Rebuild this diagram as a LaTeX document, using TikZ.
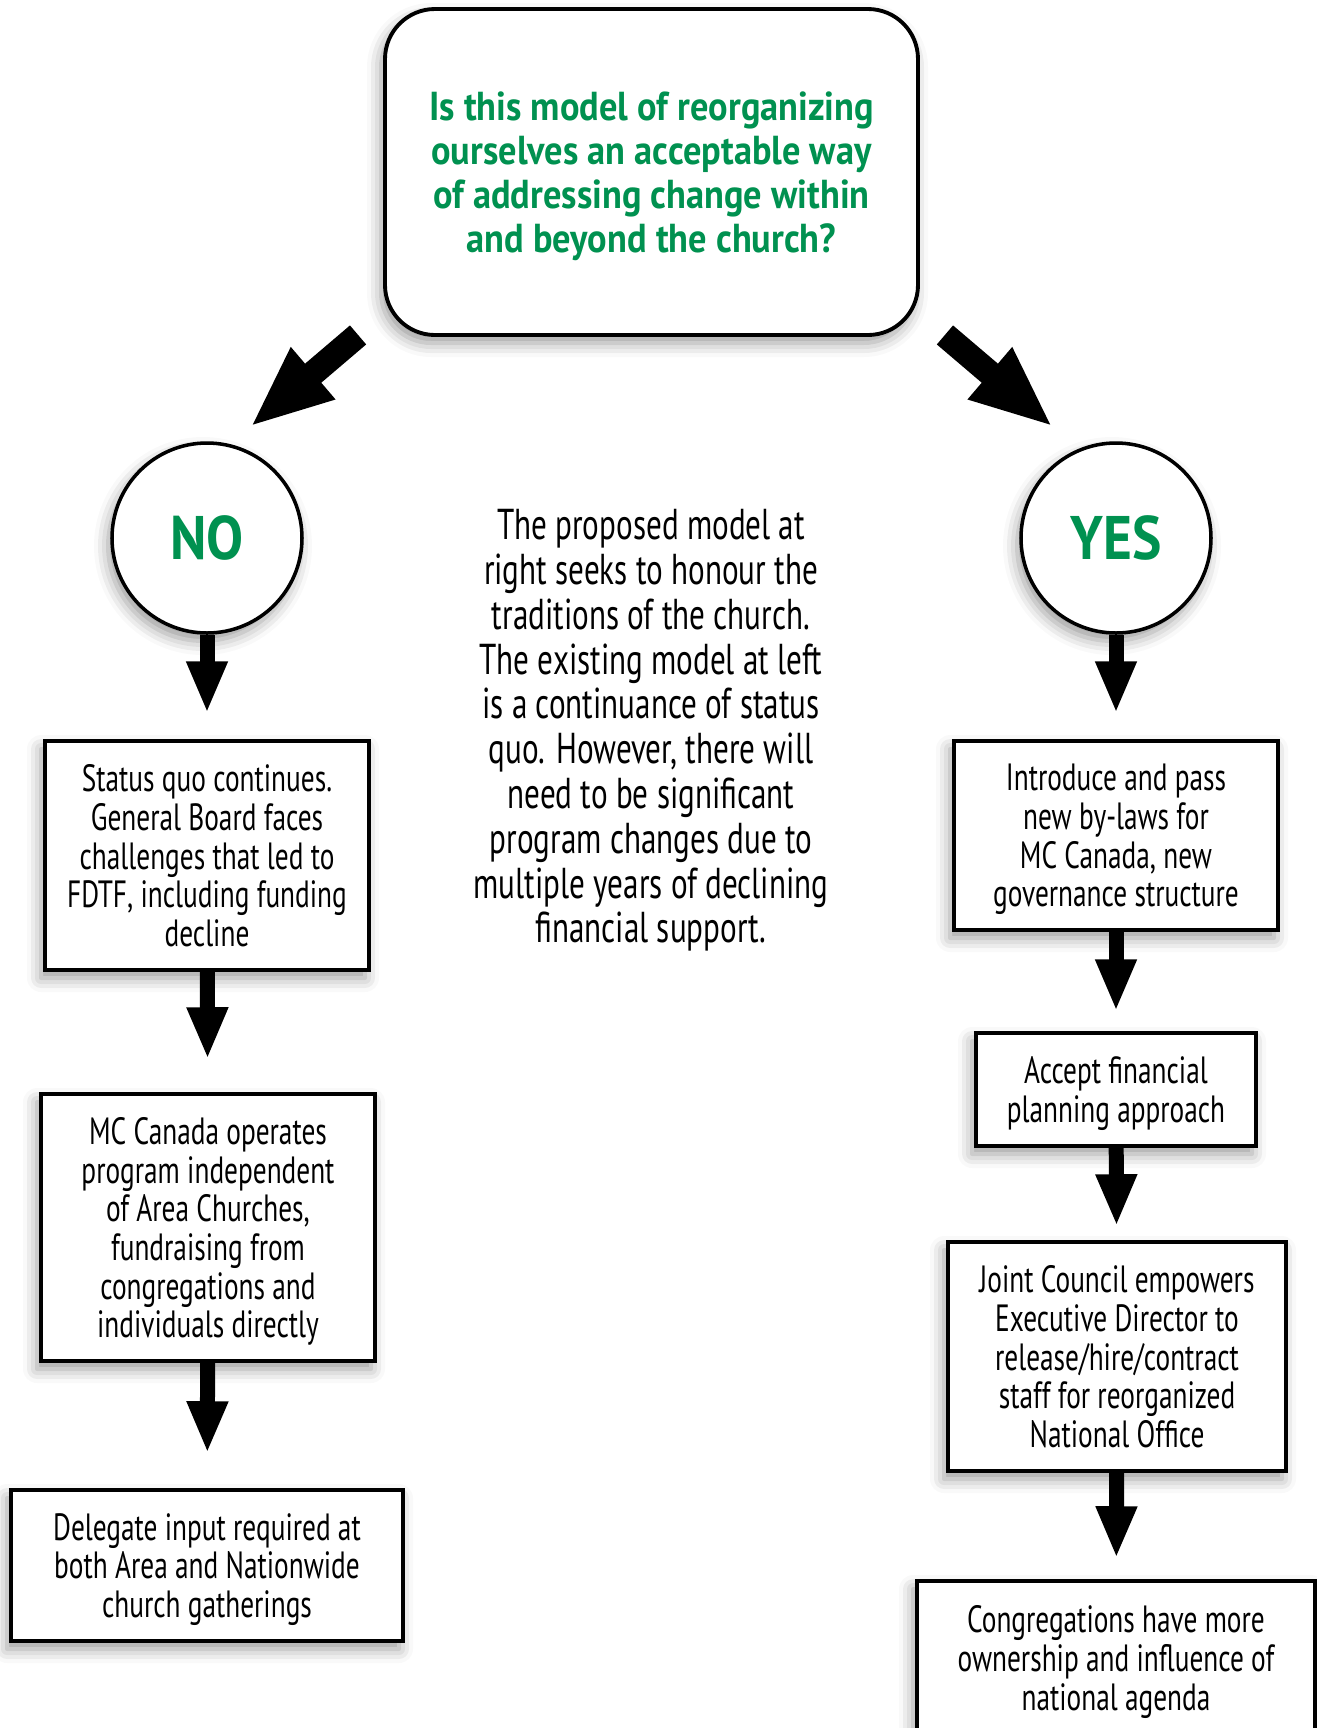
\documentclass[tikz,border=0pt]{standalone}
\usepackage{fontspec}
\setmainfont{PT Sans}[FakeStretch=0.72]
\newfontfamily\askfont{PT Sans}[FakeStretch=0.9]
\usetikzlibrary{arrows.meta, positioning, shadows.blur}
\definecolor{mcgreen}{RGB}{0, 145, 80}

\tikzset{
  softshadow/.style={blur shadow={shadow xshift=-0.04cm, shadow yshift=-0.08cm, shadow blur radius=0.14cm, shadow opacity=40}},
  askbox/.style={draw, line width=1.1pt, rounded corners=0.5cm, fill=white, minimum width=5.33cm, minimum height=3.26cm, align=center, text depth=0pt, text=mcgreen, font=\askfont\fontsize{11.5}{12.5}\selectfont\bfseries, softshadow},
  answer/.style={draw, circle, line width=1pt, fill=white, minimum size=1.9cm, inner sep=0pt, text=mcgreen, font=\askfont\fontsize{17.5}{18}\selectfont\bfseries, softshadow},
  stepbox/.style={draw, line width=1pt, fill=white, align=center, text depth=0pt, inner sep=0pt, font=\fontsize{10.8}{11}\selectfont, softshadow},
  flowarrow/.style={line width=0.15cm, -{Triangle[width=0.38cm, length=0.52cm]}},
  bigarrow/.style={line width=0.25cm, -{Triangle[width=0.62cm, length=0.83cm]}},
}

\begin{document}
\begin{tikzpicture}
\useasboundingbox (0,0) rectangle (13.17,-17.28);

% question and answers
\node[askbox] (ask) at (6.515,-1.72) {Is this model of reorganizing\\ourselves an acceptable way\\of addressing change within\\and beyond the church?};
\node[answer] (no) at (2.07,-5.38) {NO};
\node[answer] (yes) at (11.16,-5.38) {YES};

\node[align=center, font=\fontsize{12.3}{12.75}\selectfont] (note) at (6.51,-7.305) {The proposed model at\\right seeks to honour the\\traditions of the church.\\The existing model at left\\is a continuance of status\\quo. However, there will\\need to be significant\\program changes due to\\multiple years of declining\\financial support.};

% left column
\node[stepbox, minimum width=3.24cm, minimum height=2.29cm] (stay) at (2.07,-8.555) {Status quo continues.\\General Board faces\\challenges that led to\\FDTF, including funding\\decline};
\node[stepbox, minimum width=3.34cm, minimum height=2.67cm] (solo) at (2.08,-12.275) {MC Canada operates\\program independent\\of Area Churches,\\fundraising from\\congregations and\\individuals directly};
\node[stepbox, minimum width=3.92cm, minimum height=1.51cm] (delegate) at (2.07,-15.655) {Delegate input required at\\both Area and Nationwide\\church gatherings};

% right column
\node[stepbox, minimum width=3.24cm, minimum height=1.89cm] (bylaws) at (11.16,-8.355) {Introduce and pass\\new by-laws for\\MC Canada, new\\governance structure};
\node[stepbox, minimum width=2.80cm, minimum height=1.13cm] (finance) at (11.16,-10.895) {Accept financial\\planning approach};
\node[stepbox, minimum width=3.38cm, minimum height=2.29cm] (council) at (11.17,-13.565) {Joint Council empowers\\Executive Director to\\release/hire/contract\\staff for reorganized\\National Office};
\node[stepbox, minimum width=3.98cm, minimum height=1.54cm] (voice) at (11.16,-16.58) {Congregations have more\\ownership and influence of\\national agenda};

% big arrows from the question
\coordinate (notip) at (2.50,-4.27);
\coordinate (yestip) at (10.53,-4.27);
\draw[bigarrow] ([xshift=-0.25cm,yshift=0.02cm]ask.south west) -- (notip);
\draw[bigarrow] ([xshift=0.25cm,yshift=0.02cm]ask.south east) -- (yestip);

% down the columns
\draw[flowarrow, shorten >=0.26cm] (no) -- (stay);
\draw[flowarrow, shorten >=0.33cm] (stay) -- (solo);
\draw[flowarrow, shorten >=0.35cm] (solo) -- (delegate);
\draw[flowarrow, shorten >=0.26cm] (yes) -- (bylaws);
\draw[flowarrow, shorten >=0.20cm] (bylaws) -- (finance);
\draw[flowarrow, shorten >=0.14cm] (finance) -- (council);
\draw[flowarrow, shorten >=0.21cm] (council) -- (voice);
\end{tikzpicture}
\end{document}
